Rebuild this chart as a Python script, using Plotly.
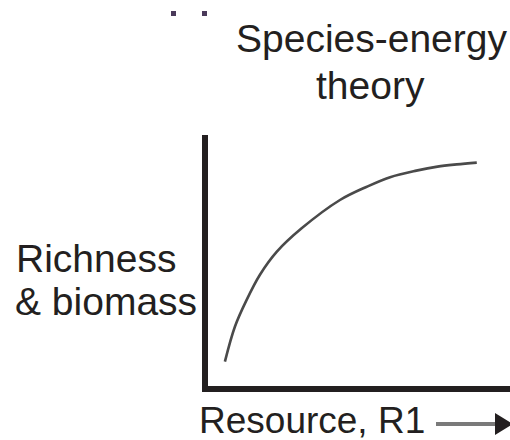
import plotly.graph_objects as go

W, H = 510, 440

# Curve values (x: resource, y: richness & biomass), 0-100 scale
resource = [5.6, 8.9, 12.8, 17.2, 22.8, 31.0, 43.7, 52.6, 60.3, 69.0, 76.0, 82.4, 89.0]
richness = [9.7, 23.6, 34.3, 44.3, 53.5, 62.8, 74.1, 79.4, 83.2, 85.8, 87.4, 88.3, 89.0]

title_lines = ["Species-energy", "theory"]
ylabel_lines = ["Richness", "& biomass"]
xlabel = "Resource, R1"

INK = "#231f20"
FONT = "Liberation Sans, Arial, sans-serif"


def px(x):
    return x / W


def py(y):
    return 1 - y / H


# plot area in pixels
L, R, T, B = 208, 510, 135, 386

fig = go.Figure()
fig.add_trace(go.Scatter(
    x=resource, y=richness, mode="lines",
    line=dict(color="#4a4a4a", width=2.6, shape="spline", smoothing=1.0),
    hoverinfo="skip", showlegend=False,
))

fig.update_layout(
    width=W, height=H,
    margin=dict(l=0, r=0, t=0, b=0),
    paper_bgcolor="white", plot_bgcolor="white",
    showlegend=False,
    xaxis=dict(domain=[px(L), px(R)], range=[0, 100], showgrid=False, zeroline=False,
               showticklabels=False, ticks="", showline=True, linewidth=6, linecolor=INK),
    yaxis=dict(domain=[py(B), py(T)], range=[0, 100], showgrid=False, zeroline=False,
               showticklabels=False, ticks="", showline=True, linewidth=6, linecolor=INK),
)


def text(t, x, y, xanchor="center", size=39):
    fig.add_annotation(text=t, x=px(x), y=py(y), xref="paper", yref="paper",
                       xanchor=xanchor, yanchor="middle", showarrow=False,
                       font=dict(family=FONT, size=size, color=INK), borderpad=0)


text(title_lines[0], 371, 38.5)
text(title_lines[1], 370, 85.5)
text(ylabel_lines[0], 15, 258.5, "left")
text(ylabel_lines[1], 14, 301.5, "left")
text(xlabel, 198, 420, "left", size=37)

# arrow next to the x label
fig.add_shape(type="line", xref="paper", yref="paper",
              x0=px(436), x1=px(497), y0=py(424), y1=py(424),
              line=dict(color="#7a7a7a", width=4))
fig.add_shape(type="path", xref="paper", yref="paper",
              path=f"M {px(495)},{py(413)} L {px(513)},{py(424)} L {px(495)},{py(435)} Z",
              fillcolor=INK, line=dict(width=0))

# tiny cropped marks at top
for x0 in (171, 202):
    fig.add_shape(type="rect", xref="paper", yref="paper",
                  x0=px(x0), x1=px(x0 + 5), y0=py(16), y1=py(11),
                  fillcolor="#4a3a5a", line=dict(width=0))

fig.write_html("out.html", config={"displayModeBar": False},
               post_script="document.body.style.margin='0';document.body.style.overflow='hidden';")
